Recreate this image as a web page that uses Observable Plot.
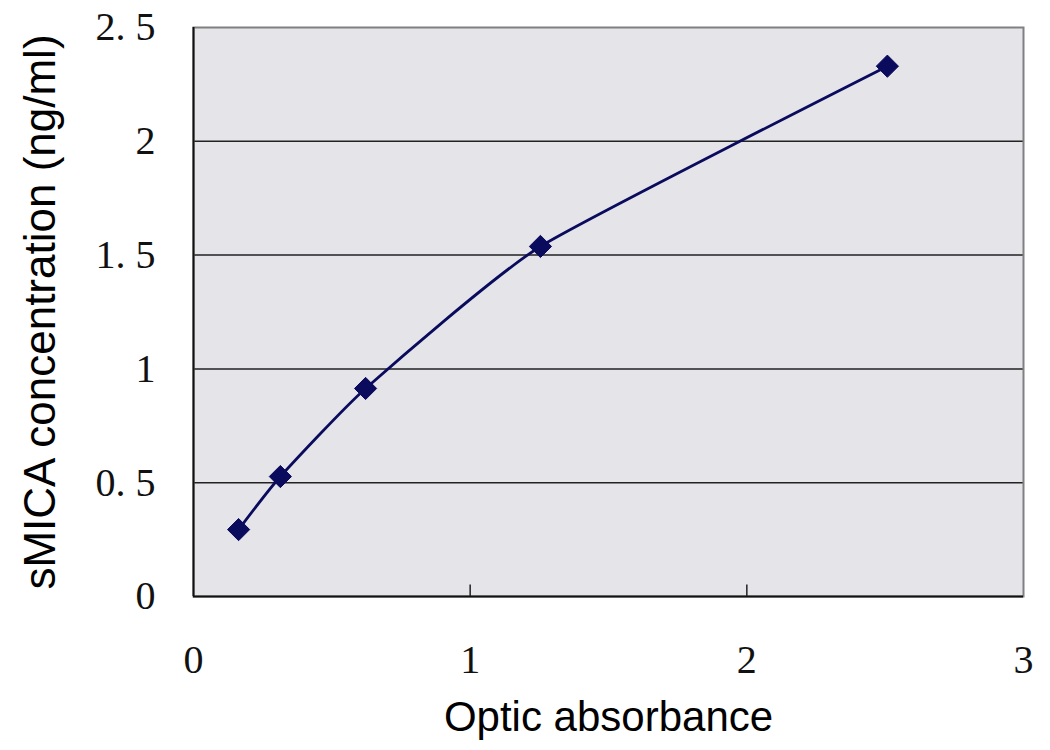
<!DOCTYPE html>
<html>
<head>
<meta charset="utf-8">
<script src="https://cdn.jsdelivr.net/npm/d3@7"></script>
<script src="https://cdn.jsdelivr.net/npm/@observablehq/plot@0.6"></script>
<style>
  html, body { margin: 0; padding: 0; background: #fff; }
</style>
</head>
<body>
<div id="chart"></div>
<script>
const absorbance = [0.163, 0.314, 0.622, 1.254, 2.508];
const concentration = [0.294, 0.527, 0.914, 1.538, 2.33];
const xTicks = [0, 1, 2, 3];
const yTicks = [0, 0.5, 1, 1.5, 2, 2.5];
const xLabel = "Optic absorbance";
const yLabel = "sMICA concentration (ng/ml)";

const data = absorbance.map((x, i) => ({x, y: concentration[i]}));
const fmt = d => Number.isInteger(d) ? String(d) : d.toFixed(1).replace(".", ". ");
const serif = "'Liberation Serif', 'DejaVu Serif', serif";
const sans = "'Liberation Sans', Arial, sans-serif";

const chart = Plot.plot({
  width: 1050,
  height: 750,
  marginLeft: 193,
  marginRight: 27,
  marginTop: 27,
  marginBottom: 154,
  x: {domain: [0, 3]},
  y: {domain: [0, 2.5]},
  style: {background: "#fff"},
  marks: [
    Plot.frame({fill: "#e4e4e9", stroke: null}),
    Plot.ruleY(yTicks.filter(d => d > 0 && d < 2.5), {stroke: "#222", strokeWidth: 1.5}),
    Plot.frame({stroke: "#808080", strokeWidth: 2}),
    Plot.ruleY([0], {stroke: "#111", strokeWidth: 2}),
    Plot.ruleX([0], {stroke: "#111", strokeWidth: 2}),
    Plot.ruleX(xTicks.filter(d => d > 0 && d < 3), {y1: 0, y2: 0.05, stroke: "#222", strokeWidth: 1.5}),
    Plot.axisX({ticks: xTicks, tickSize: 0, tickPadding: 48, tickFormat: fmt, fontSize: 40, fontFamily: serif, label: null, fill: "#111"}),
    Plot.axisY({ticks: yTicks, tickSize: 0, tickPadding: 38, tickFormat: fmt, fontSize: 40, fontFamily: serif, label: null, fill: "#111"}),
    Plot.line(data, {x: "x", y: "y", curve: "cardinal", tension: 0.5, stroke: "#0b0b5e", strokeWidth: 2.8}),
    Plot.dot(data, {x: "x", y: "y", symbol: "diamond2", r: 10, fill: "#0b0b5e", stroke: "#0b0b5e", strokeWidth: 1}),
    Plot.text([xLabel], {frameAnchor: "bottom", dy: 121, lineAnchor: "middle", fontSize: 42, fontFamily: sans, fill: "#000"}),
    Plot.text([yLabel], {frameAnchor: "left", dx: -153, rotate: -90, textAnchor: "middle", lineAnchor: "middle", fontSize: 44, fontFamily: sans, fill: "#000"})
  ]
});
document.getElementById("chart").appendChild(chart);
</script>
</body>
</html>
